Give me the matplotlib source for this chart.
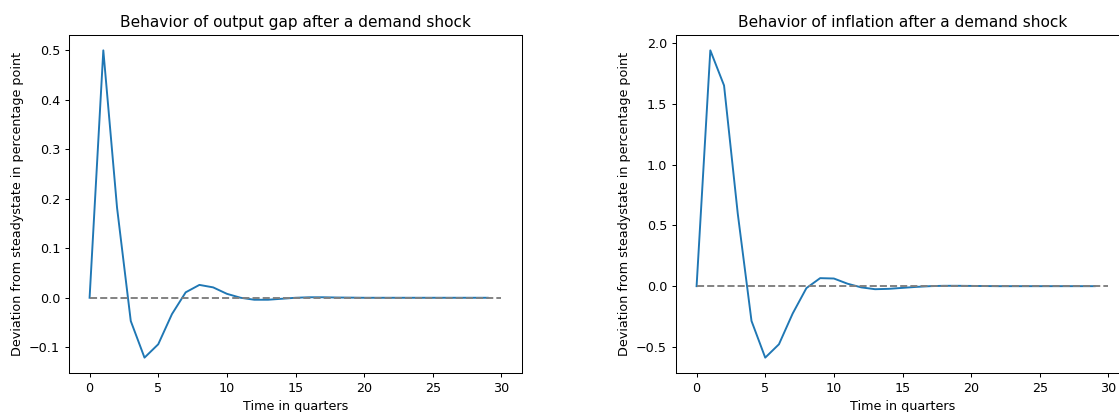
import numpy as np
import matplotlib.pyplot as plt

# respuestas al impulso de un shock de demanda (brecha del producto e inflacion)

t = np.arange(30)
horizonte = [0, 30]

brecha = [0.0, 0.5, 0.182, -0.047, -0.121, -0.094, -0.033, 0.011, 0.026, 0.021,
          0.008, 0.0, -0.004, -0.004, -0.002, 0.0, 0.001, 0.001, 0.0005, 0.0003,
          0.0, 0.0, 0.0, 0.0, 0.0, 0.0, 0.0, 0.0, 0.0, 0.0]

inflacion = [0.0, 1.94, 1.651, 0.596, -0.286, -0.588, -0.478, -0.225, -0.016, 0.066,
             0.063, 0.02, -0.01, -0.025, -0.022, -0.014, -0.006, 0.0, 0.003, 0.003,
             0.002, 0.001, 0.0, 0.0, 0.0, 0.0, 0.0, 0.0, 0.0, 0.0]

titulos = ["Behavior of output gap after a demand shock",
           "Behavior of inflation after a demand shock"]

dpi = 92
fig = plt.figure(figsize=(1119/dpi, 412/dpi), dpi=dpi)
ax1 = fig.add_axes([69/1119, 39/412, 453/1119, 338/412])
ax2 = fig.add_axes([676/1119, 39/412, 453/1119, 338/412])

for ax, serie, titulo in zip([ax1, ax2], [brecha, inflacion], titulos):
    ax.plot(t, serie)
    ax.plot(horizonte, [0, 0], '--', color='grey')
    ax.set_title(titulo)
    ax.set_xlabel('Time in quarters')
    ax.set_ylabel('Deviation from steadystate in percentage point')

plt.savefig('out.png', dpi=dpi)
